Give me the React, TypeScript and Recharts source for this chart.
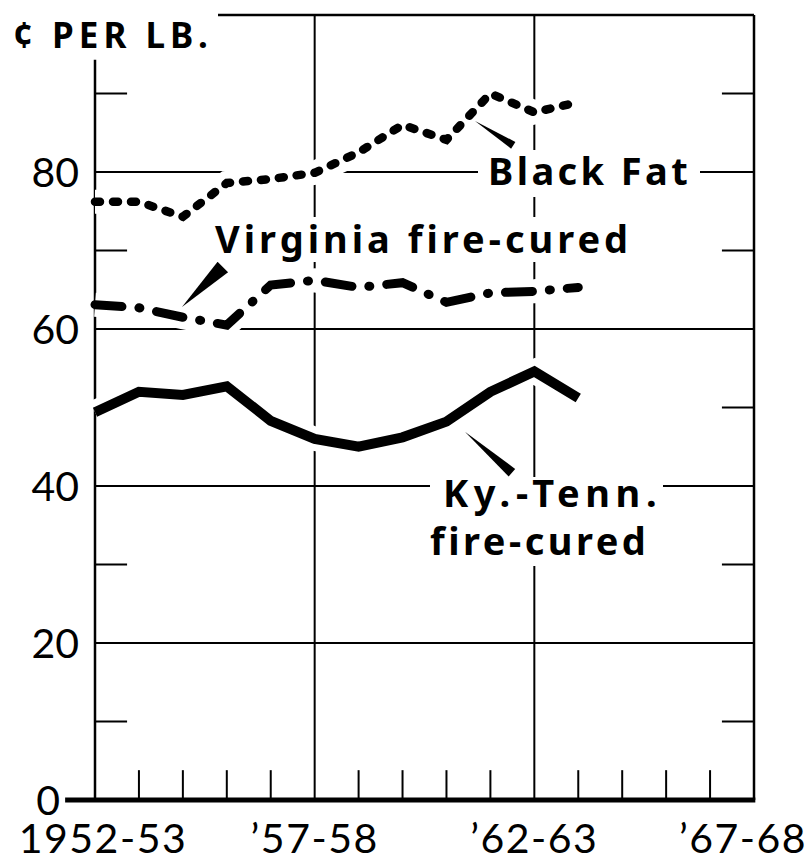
import React from "react";
import { LineChart, Line, XAxis, YAxis, ReferenceLine, CartesianGrid } from "recharts";

// crop years (1952 = 1952-53 season)
const years = [1952, 1953, 1954, 1955, 1956, 1957, 1958, 1959, 1960, 1961, 1962, 1963];
// cents per pound
const blackFat = [76.2, 76.2, 74.3, 78.6, 79.1, 79.9, 82.5, 86.0, 84.1, 90.0, 87.6, 88.9];
const virginiaFireCured = [63.1, 62.7, 61.5, 60.5, 65.6, 66.2, 65.3, 65.9, 63.4, 64.6, 64.8, 65.3];
const kyTennFireCured = [49.4, 52.0, 51.6, 52.7, 48.3, 46.0, 45.0, 46.2, 48.2, 52.0, 54.6, 51.2];

const xTickYears = [1952, 1957, 1962, 1967];
const xTickLabels = ["1952-53", "\u201957-58", "\u201962-63", "\u201967-68"];
const yTickValues = [0, 20, 40, 60, 80];
const majorYears = [1957, 1962];
const minorYears = [1953, 1954, 1955, 1956, 1958, 1959, 1960, 1961, 1963, 1964, 1965, 1966];
const majorCents = [20, 40, 60, 80];
const minorCents = [10, 30, 50, 70, 90];

const data = years.map((year, i) => ({
  year,
  blackFat: blackFat[i],
  virginia: virginiaFireCured[i],
  kyTenn: kyTennFireCured[i],
}));

const INK = "#000";
const tickFont = "Lato, 'Noto Sans', sans-serif";
const labelFont = "'Noto Sans', 'DejaVu Sans', sans-serif";

// leader arrows: thin tip at the first point, wide at the second
const wedge = (width: number) => (props: any) => {
  const { x1, y1, x2, y2 } = props;
  const dx = x2 - x1;
  const dy = y2 - y1;
  const len = Math.hypot(dx, dy) || 1;
  const nx = ((-dy / len) * width) / 2;
  const ny = ((dx / len) * width) / 2;
  const pts = `${x1},${y1} ${x2 + nx},${y2 + ny} ${x2 - nx},${y2 - ny}`;
  return <polygon points={pts} fill={INK} stroke="none" />;
};

const YTick = ({ x, y, payload }: any) => {
  const v = payload.value;
  return (
    <text
      x={v === 0 ? x - 19 : x}
      y={y}
      dy={15}
      textAnchor="end"
      fontFamily={tickFont}
      fontWeight={400}
      fontSize={41}
      fill={INK}
    >
      {v}
    </text>
  );
};

const XTick = ({ x, y, payload, index }: any) => {
  const last = index === xTickYears.length - 1;
  return (
    <text
      x={last ? 807 : index === 0 ? x + 8 : x}
      y={y}
      dy={53}
      textAnchor={last ? "end" : "middle"}
      fontFamily={tickFont}
      fontWeight={400}
      fontSize={41}
      letterSpacing={1.5}
      fill={INK}
    >
      {xTickLabels[xTickYears.indexOf(payload.value)]}
    </text>
  );
};

const labelStyle = {
  fontFamily: labelFont,
  fontWeight: 700,
  fontSize: 38,
  fill: INK,
};

export default function App() {
  return (
    <div style={{ position: "absolute", left: 0, top: 0, width: 809, height: 864, background: "#fff" }}>
      <LineChart width={809} height={864} data={data} margin={{ top: 15, right: 55, bottom: 0, left: 0 }}>
        <CartesianGrid
          horizontalValues={majorCents}
          verticalValues={majorYears}
          stroke={INK}
          strokeWidth={2}
          strokeOpacity={1}
        />
        <XAxis
          dataKey="year"
          type="number"
          domain={[1952, 1967]}
          ticks={xTickYears}
          height={64}
          axisLine={false}
          tickLine={false}
          tickSize={0}
          tickMargin={0}
          tick={<XTick />}
          interval={0}
        />
        <YAxis
          type="number"
          domain={[0, 100]}
          ticks={yTickValues}
          width={95}
          axisLine={false}
          tickLine={false}
          tickSize={0}
          tickMargin={16}
          tick={<YTick />}
          interval={0}
        />

        {/* short ticks */}
        {minorCents.map((c) => (
          <ReferenceLine key={`l${c}`} segment={[{ x: 1952, y: c }, { x: 1952.73, y: c }]} stroke={INK} strokeWidth={2} />
        ))}
        {minorCents.map((c) => (
          <ReferenceLine key={`r${c}`} segment={[{ x: 1966.27, y: c }, { x: 1967, y: c }]} stroke={INK} strokeWidth={2} />
        ))}
        {minorYears.map((yr) => (
          <ReferenceLine key={`t${yr}`} segment={[{ x: yr, y: 0 }, { x: yr, y: 3.8 }]} stroke={INK} strokeWidth={2} />
        ))}

        {/* frame */}
        <ReferenceLine segment={[{ x: 1952, y: 0 }, { x: 1952, y: 94.3 }]} stroke={INK} strokeWidth={2.5} />
        <ReferenceLine segment={[{ x: 1954.8, y: 100 }, { x: 1967, y: 100 }]} stroke={INK} strokeWidth={2.5} />
        <ReferenceLine segment={[{ x: 1967, y: 0 }, { x: 1967, y: 100 }]} stroke={INK} strokeWidth={2.5} />
        <ReferenceLine
          segment={[{ x: 1951.32, y: 0 }, { x: 1967.03, y: 0 }]}
          stroke={INK}
          strokeWidth={5}
          ifOverflow="visible"
        />

        {/* white halos so the grid breaks around the curves */}
        <Line dataKey="blackFat" stroke="#fff" strokeWidth={24} dot={false} activeDot={false} isAnimationActive={false} />
        <Line dataKey="virginia" stroke="#fff" strokeWidth={24} dot={false} activeDot={false} isAnimationActive={false} />
        <Line dataKey="kyTenn" stroke="#fff" strokeWidth={24} dot={false} activeDot={false} isAnimationActive={false} />

        <Line
          dataKey="blackFat"
          stroke={INK}
          strokeWidth={8.5}
          strokeDasharray="5 13"
          strokeLinecap="round"
          dot={false}
          activeDot={false}
          isAnimationActive={false}
        />
        <Line
          dataKey="virginia"
          stroke={INK}
          strokeWidth={9}
          strokeDasharray="27 17 1 17"
          strokeLinecap="round"
          dot={false}
          activeDot={false}
          isAnimationActive={false}
        />
        <Line
          dataKey="kyTenn"
          stroke={INK}
          strokeWidth={10}
          strokeLinejoin="miter"
          dot={false}
          activeDot={false}
          isAnimationActive={false}
        />

        {/* leader arrows */}
        <ReferenceLine segment={[{ x: 1960.65, y: 86.5 }, { x: 1961.52, y: 83.4 }]} shape={wedge(8)} />
        <ReferenceLine segment={[{ x: 1953.98, y: 62.8 }, { x: 1954.91, y: 67.9 }]} shape={wedge(15)} />
        <ReferenceLine segment={[{ x: 1960.42, y: 46.9 }, { x: 1961.49, y: 41.7 }]} shape={wedge(10)} />
      </LineChart>

      <svg
        width={809}
        height={864}
        style={{ position: "absolute", left: 0, top: 0, pointerEvents: "none" }}
      >
        <text x={13} y={48} fontFamily={labelFont} fontWeight={700} fontSize={35} letterSpacing={5} fill={INK}>
          ¢ PER LB.
        </text>

        <rect x={478} y={150} width={222} height={47} fill="#fff" />
        <text x={488} y={185} letterSpacing={3.4} {...labelStyle}>
          Black Fat
        </text>

        <rect x={205} y={217} width={432} height={45} fill="#fff" />
        <text x={215} y={253} letterSpacing={4} {...labelStyle}>
          Virginia fire-cured
        </text>

        <rect x={430} y={477} width={233} height={89} fill="#fff" />
        <text x={443} y={507} letterSpacing={5.6} {...labelStyle}>
          Ky.-Tenn.
        </text>
        <text x={430} y={555} letterSpacing={3.5} {...labelStyle}>
          fire-cured
        </text>
      </svg>
    </div>
  );
}
